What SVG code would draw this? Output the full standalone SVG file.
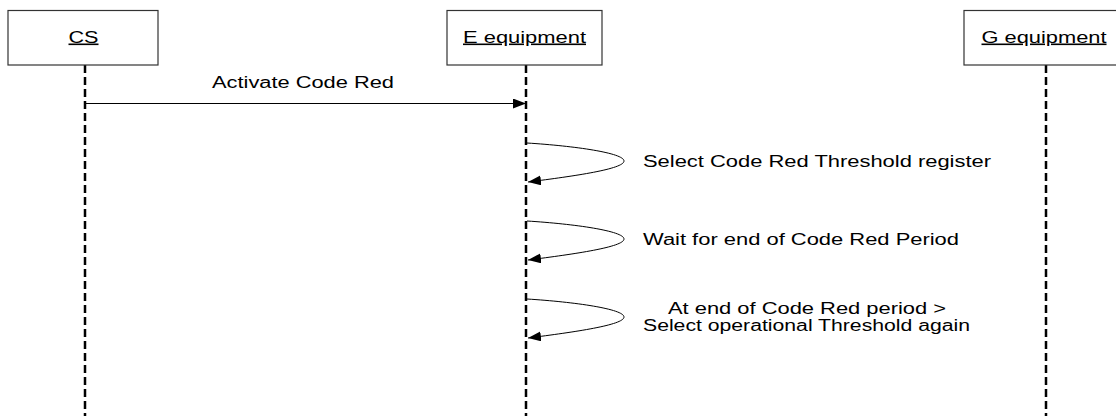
<svg xmlns="http://www.w3.org/2000/svg" width="1116" height="416" viewBox="0 0 1116 416">
  <defs>
    <marker id="arr" markerUnits="userSpaceOnUse" markerWidth="14" markerHeight="11" refX="13" refY="5" orient="auto">
      <path d="M0,0 L13,5 L0,10 z" fill="#000"/>
    </marker>
    <style>
      .box { fill: #fff; stroke: #333; stroke-width: 1.2; }
      .life { stroke: #000; stroke-width: 2.5; stroke-dasharray: 8 4; fill: none; }
      .msg { stroke: #000; stroke-width: 1; fill: none; marker-end: url(#arr); }
      text { font-family: "Liberation Sans", Arial, sans-serif; font-size: 16px; fill: #000; }
      .name { text-decoration: underline; text-anchor: middle; }
    </style>
  </defs>
  <rect width="1116" height="416" fill="#fff"/>

  <g id="lifelines">
    <line class="life" x1="85" y1="65" x2="85" y2="416"/>
    <line class="life" x1="526" y1="65" x2="526" y2="416"/>
    <line class="life" x1="1046" y1="65" x2="1046" y2="416"/>
  </g>

  <g id="node-cs">
    <rect class="box" x="8" y="10.5" width="150" height="54.5"/>
    <text class="name" x="83.5" y="42.5" textLength="30" lengthAdjust="spacingAndGlyphs">CS</text>
  </g>
  <g id="node-e">
    <rect class="box" x="447" y="10.5" width="155" height="54.5"/>
    <text class="name" x="524.5" y="42.5" textLength="123" lengthAdjust="spacingAndGlyphs">E equipment</text>
  </g>
  <g id="node-g">
    <rect class="box" x="964" y="10.5" width="160" height="54.5"/>
    <text class="name" x="1044" y="42.5" textLength="125" lengthAdjust="spacingAndGlyphs">G equipment</text>
  </g>

  <g id="connectors">
    <line class="msg" x1="86" y1="103.5" x2="526" y2="103.5"/>
    <path class="msg" d="M527,143 C575,146 624,153 624,161 C624,169 575,176 528,182"/>
    <path class="msg" d="M527,221 C575,224 624,231 624,239 C624,247 575,254 528,260"/>
    <path class="msg" d="M527,299 C575,302 624,309 624,317 C624,325 575,332 528,338"/>
  </g>

  <g id="labels">
    <text x="212" y="87.5" textLength="182" lengthAdjust="spacingAndGlyphs">Activate Code Red</text>
    <text x="643" y="167" textLength="348" lengthAdjust="spacingAndGlyphs">Select Code Red Threshold register</text>
    <text x="643" y="245" textLength="316" lengthAdjust="spacingAndGlyphs">Wait for end of Code Red Period</text>
    <text x="668" y="313.5" textLength="278" lengthAdjust="spacingAndGlyphs">At end of Code Red period &gt;</text>
    <text x="643" y="330.5" textLength="327" lengthAdjust="spacingAndGlyphs">Select operational Threshold again</text>
  </g>
</svg>
